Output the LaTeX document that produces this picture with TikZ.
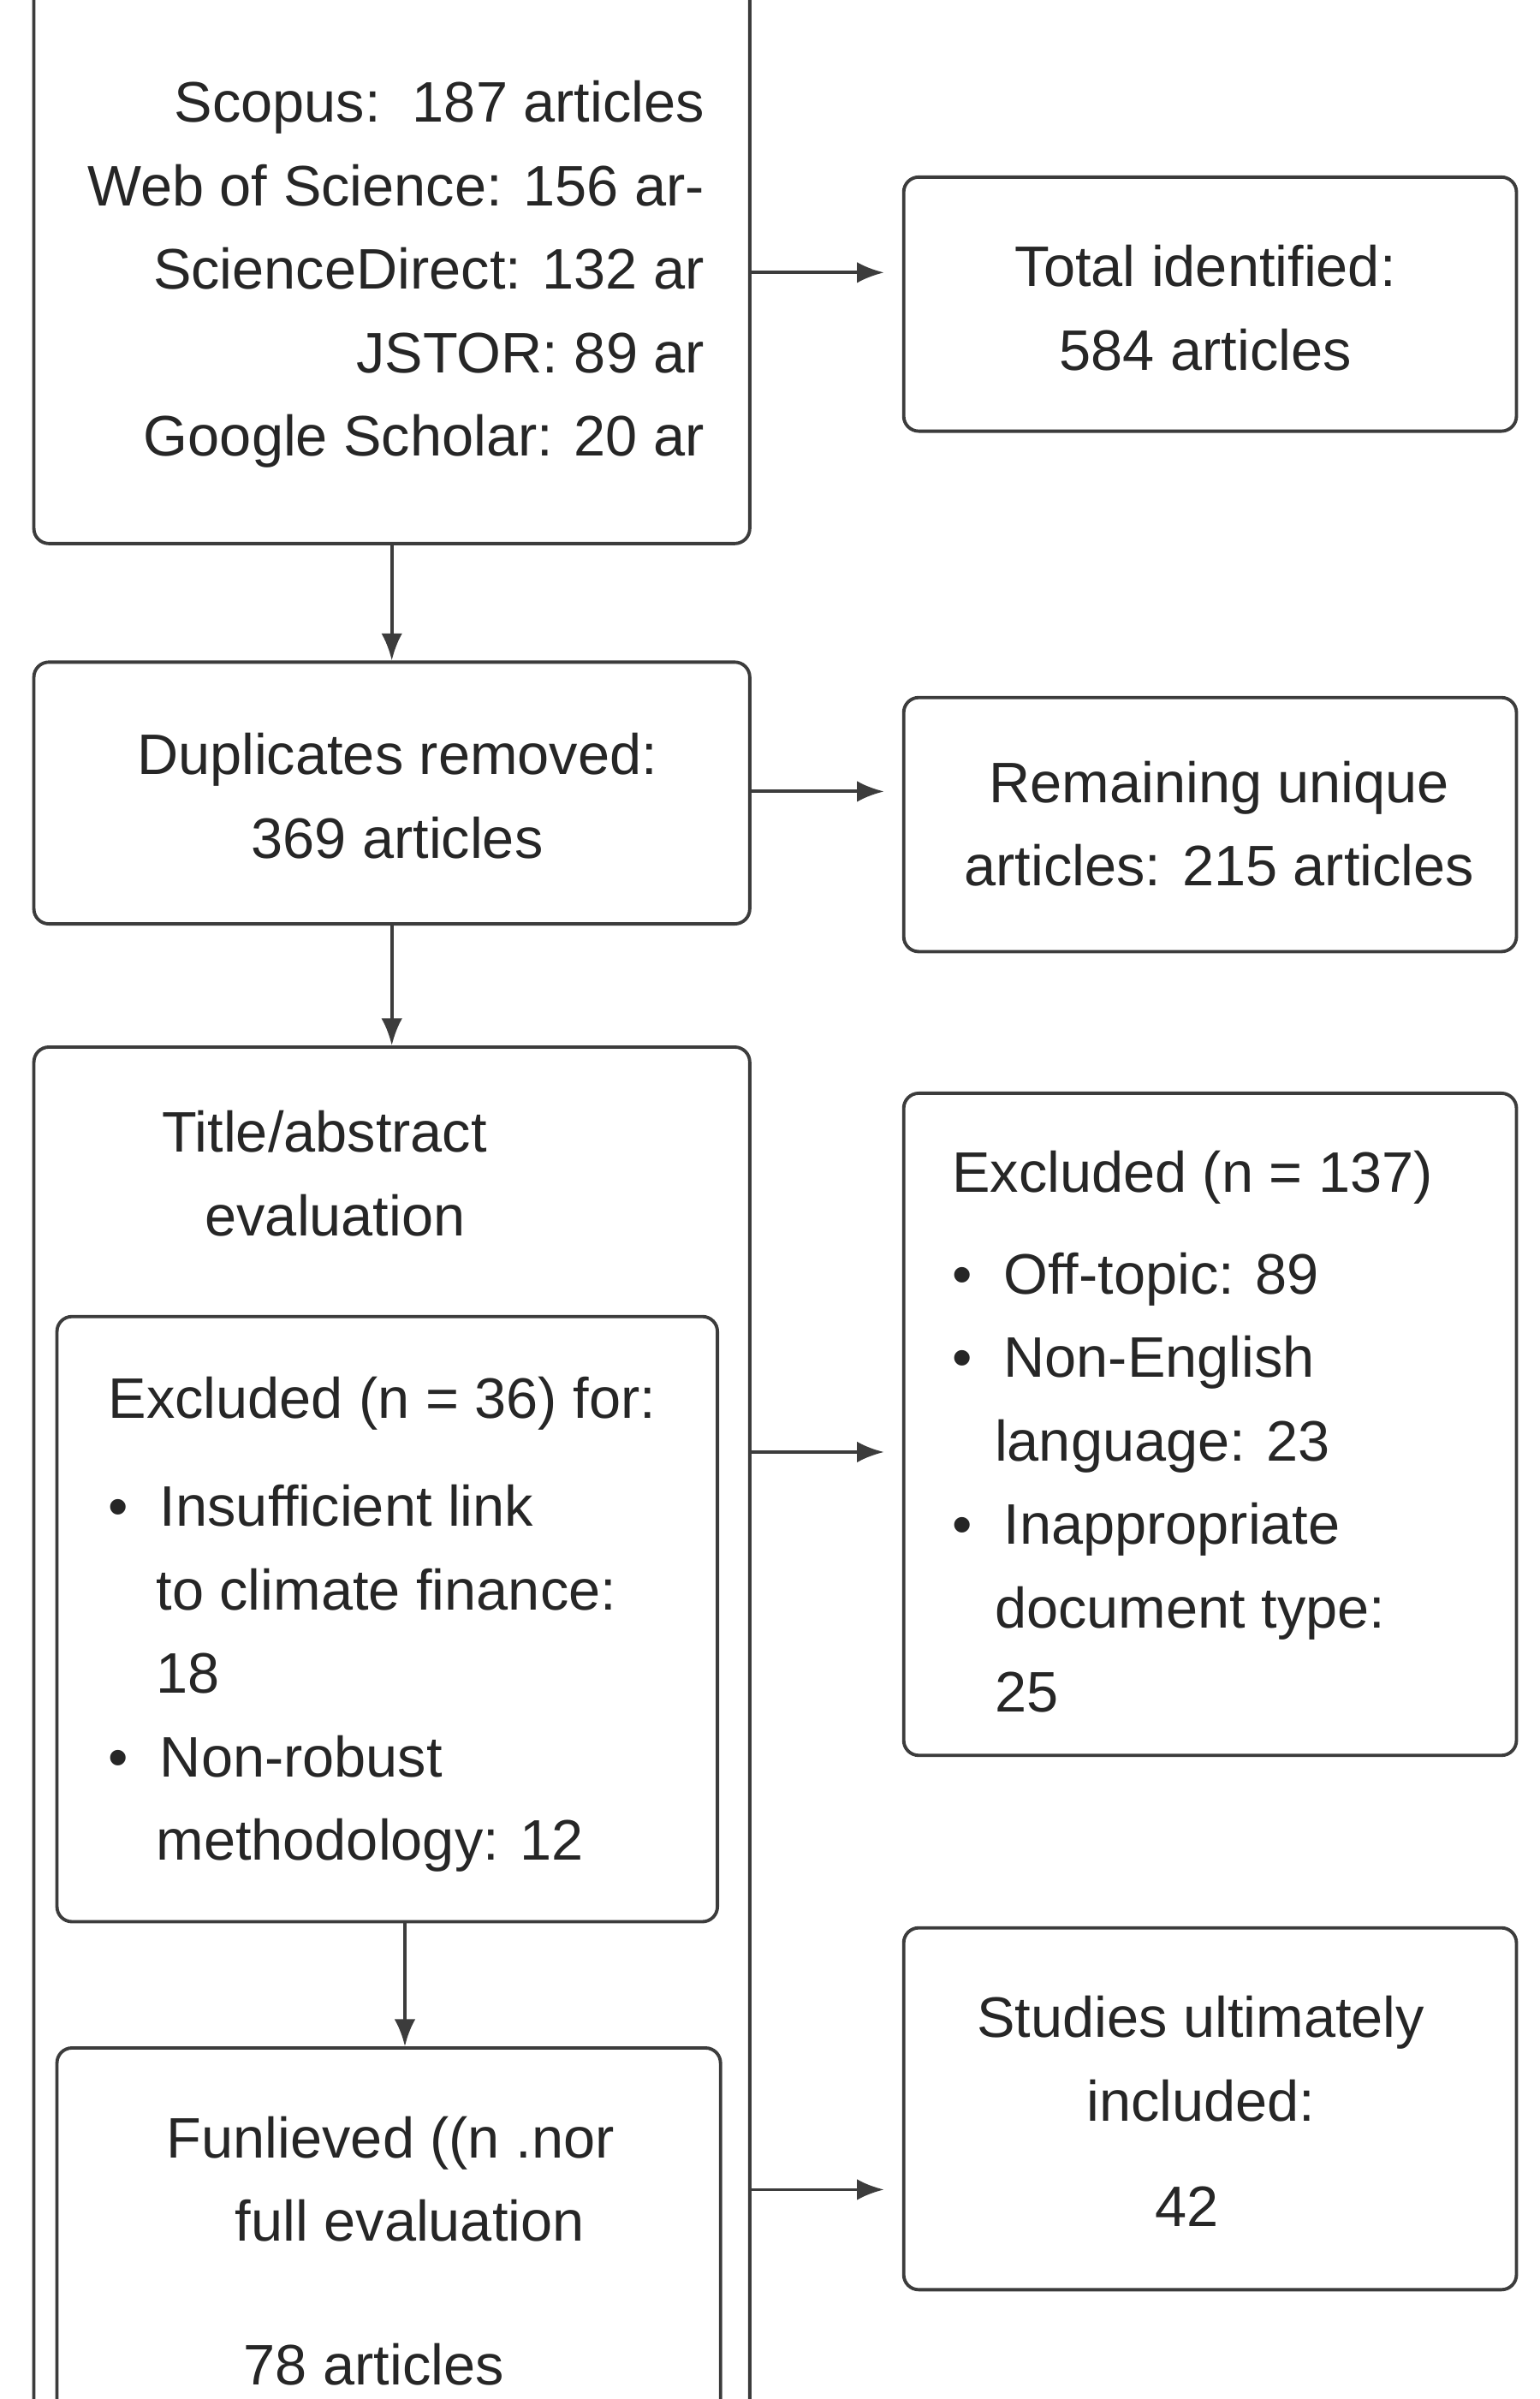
\documentclass[tikz,border=0pt]{standalone}
\usepackage{fontspec}
\setmainfont{Liberation Sans}
\usetikzlibrary{arrows.meta, positioning}
\definecolor{ink}{RGB}{60,60,60}
\tikzset{
  box/.style={rectangle, draw=ink, line width=1.1pt, rounded corners=5pt, inner sep=0pt},
  txt/.style={inner sep=0pt, align=left, anchor=north west, text=black!85},
  arr/.style={-{Latex[length=9pt, width=7pt]}, draw=ink, line width=1.1pt}
}
\begin{document}
\begin{tikzpicture}[x=0.018cm, y=-0.018cm, font=\fontsize{19}{27.8}\selectfont]
\useasboundingbox (0,0) rectangle (1000,1558);
\clip (0,0) rectangle (1000,1558);
% boxes
\node [box, minimum width=465*0.018cm, minimum height=393*0.018cm] (src) at (254.5,156.5) {};
\node [box, minimum width=398*0.018cm, minimum height=165*0.018cm] (total) at (786,197.5) {};
\node [box, minimum width=465*0.018cm, minimum height=170*0.018cm] (dup) at (254.5,515) {};
\node [box, minimum width=398*0.018cm, minimum height=165*0.018cm] (remain) at (786,535.5) {};
\node [box, minimum width=465*0.018cm, minimum height=900*0.018cm] (screen) at (254.5,1130) {};
\node [box, minimum width=429*0.018cm, minimum height=393*0.018cm] (excl) at (251.5,1051.5) {};
\node [box, minimum width=398*0.018cm, minimum height=430*0.018cm] (exclb) at (786,925) {};
\node [box, minimum width=431*0.018cm, minimum height=260*0.018cm] (full) at (252.5,1460) {};
\node [box, minimum width=398*0.018cm, minimum height=235*0.018cm] (incl) at (786,1369.5) {};
% texts
\node [txt, anchor=north east, align=right] (srctxt) at (458,52) {Scopus:\ \ 187 articles\\Web of Science: 156 ar-\\ScienceDirect: 132 ar\\JSTOR: 89 ar\\Google Scholar: 20 ar};
\node [txt, anchor=center, align=center] at (783,200) {Total identified:\\584 articles};
\node [txt, anchor=center, align=center] at (258,517) {Duplicates removed:\\369 articles};
\node [txt, anchor=center, align=center] at (792,535) {Remaining unique\\articles: 215 articles};
\node [txt] at (105,721) {Title/abstract\\\hspace{0.5cm}evaluation};
\node [txt] at (70,894) {Excluded (n = 36) for:\\[8pt]
  \textbullet\ \ Insufficient link\\\hspace{0.56cm}to climate finance:\\\hspace{0.56cm}18\\
  \textbullet\ \ Non-robust\\\hspace{0.56cm}methodology: 12};
\node [txt] at (618,747) {Excluded (n = 137)\\[6pt]
  \textbullet\ \ Off-topic: 89\\\textbullet\ \ Non-English\\\hspace{0.5cm}language: 23\\
  \textbullet\ \ Inappropriate\\\hspace{0.5cm}document type:\\\hspace{0.5cm}25};
\node [txt] at (108,1374) {Funlieved ((n .nor\\\hspace{0.8cm}full evaluation\\[20pt]\hspace{0.9cm}78 articles};
\node [txt, anchor=center, align=center] at (780,1337) {Studies ultimately\\included:};
\node [txt, anchor=center] at (771,1433) {42};
% arrows
\draw [arr] (src.south) -- (dup.north);
\draw [arr] (dup.south) -- (screen.north);
\draw [arr] (excl.south -| 263,0) -- (full.north -| 263,0);
\draw [arr] (src.east |- 0,177) -- ([xshift=-6pt]total.west |- 0,177);
\draw [arr] (dup.east |- 0,514) -- ([xshift=-6pt]remain.west |- 0,514);
\draw [arr] (screen.east |- 0,943) -- ([xshift=-6pt]exclb.west |- 0,943);
\draw [arr] (screen.east |- 0,1422) -- ([xshift=-6pt]incl.west |- 0,1422);
\end{tikzpicture}
\end{document}
